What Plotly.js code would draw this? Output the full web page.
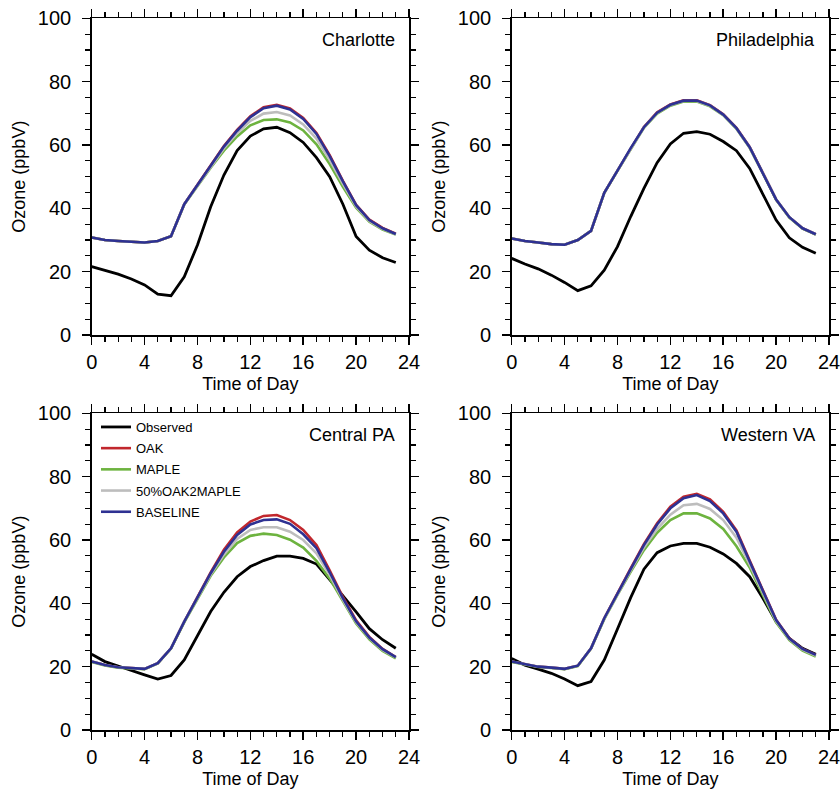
<!DOCTYPE html>
<html>
<head>
<meta charset="utf-8">
<script src="https://cdn.plot.ly/plotly-3.0.1.min.js"></script>
<style>html,body{margin:0;padding:0;background:#fff;}#chart{width:840px;height:793px;}</style>
</head>
<body>
<div id="chart"></div>
<script>
// ---- data ----
const hours = [0,1,2,3,4,5,6,7,8,9,10,11,12,13,14,15,16,17,18,19,20,21,22,23];
const seriesNames = ["Observed","OAK","MAPLE","50%OAK2MAPLE","BASELINE"];
const panelNames = ["Charlotte","Philadelphia","Central PA","Western VA"];

// Charlotte
const obsCLT   = [21.6,20.5,19.2,17.7,15.8,12.9,12.4,18.4,28.4,40.5,50.5,58.2,62.8,65.1,65.6,63.9,60.8,56.0,50.0,41.3,31.1,26.8,24.4,22.9];
const oakCLT   = [30.8,30.0,29.7,29.4,29.2,29.7,31.2,41.3,47.4,53.6,59.7,64.8,69.1,71.9,72.7,71.5,68.5,63.8,56.8,48.7,41.1,36.4,33.8,32.0];
const mapleCLT = [30.8,30.0,29.7,29.4,29.2,29.7,31.2,41.2,47.1,52.8,58.2,62.7,66.2,67.9,68.1,67.1,64.6,60.2,54.0,46.8,40.2,35.8,33.3,31.7];
const halfCLT  = [30.8,30.0,29.7,29.4,29.2,29.7,31.2,41.3,47.3,53.2,58.9,63.7,67.6,69.9,70.4,69.3,66.5,62.0,55.3,47.7,40.6,36.0,33.5,31.8];
const baseCLT  = [30.8,30.0,29.7,29.4,29.2,29.7,31.2,41.3,47.4,53.5,59.5,64.5,68.8,71.6,72.4,71.2,68.2,63.5,56.5,48.5,41.0,36.3,33.7,31.9];

// Philadelphia
const obsPHL   = [24.2,22.4,20.9,18.9,16.6,14.0,15.5,20.5,27.9,37.4,46.3,54.4,60.3,63.7,64.2,63.4,61.1,58.2,52.6,44.7,36.3,30.7,27.7,25.8];
const oakPHL   = [30.5,29.7,29.2,28.7,28.5,30.0,32.9,44.9,51.9,59.0,65.7,70.3,72.8,74.1,74.1,72.6,69.7,65.4,59.4,51.2,42.8,37.2,33.7,31.8];
const maplePHL = [30.5,29.7,29.2,28.7,28.5,30.0,32.9,44.8,51.8,58.8,65.4,69.9,72.4,73.7,73.7,72.2,69.4,65.1,59.1,51.0,42.7,37.1,33.6,31.7];
const halfPHL  = [30.5,29.7,29.2,28.7,28.5,30.0,32.9,44.9,51.9,58.9,65.5,70.1,72.6,73.9,73.9,72.4,69.5,65.2,59.2,51.1,42.8,37.2,33.7,31.8];
const basePHL  = [30.5,29.7,29.2,28.7,28.5,30.0,32.9,44.9,51.9,59.0,65.6,70.2,72.7,74.0,74.0,72.5,69.6,65.3,59.3,51.1,42.8,37.2,33.7,31.8];

// Central PA
const obsCPA   = [23.9,21.6,20.2,18.7,17.4,16.1,17.2,22.1,30.0,37.4,43.5,48.4,51.6,53.5,54.9,54.9,54.2,52.4,47.5,42.5,37.3,32.0,28.5,25.8];
const oakCPA   = [21.6,20.5,19.8,19.5,19.3,21.1,25.8,34.2,41.9,49.8,56.9,62.4,65.8,67.6,67.9,66.3,63.2,58.4,50.4,42.0,34.6,29.4,25.6,23.0];
const mapleCPA = [21.5,20.4,19.7,19.4,19.2,21.0,25.7,34.0,41.5,48.7,54.5,59.0,61.3,62.0,61.6,60.1,57.6,53.4,47.8,40.6,33.6,28.6,25.0,22.6];
const halfCPA  = [21.6,20.5,19.8,19.5,19.3,21.1,25.8,34.2,41.7,49.1,55.4,60.3,63.2,64.0,64.0,62.6,60.0,55.8,49.0,41.1,34.0,29.0,25.3,22.9];
const baseCPA  = [21.6,20.5,19.8,19.5,19.3,21.1,25.8,34.2,41.8,49.5,56.3,61.6,64.9,66.3,66.5,65.1,61.8,57.4,49.8,41.6,34.3,29.2,25.5,23.0];

// Western VA
const obsWVA   = [22.6,20.5,19.2,17.9,16.1,14.0,15.3,22.1,31.9,41.8,50.8,56.0,58.1,58.9,58.9,57.7,55.6,52.6,48.4,41.6,34.2,28.9,25.8,23.9];
const oakWVA   = [21.6,20.7,20.0,19.7,19.3,20.3,25.8,35.3,43.3,51.0,58.7,65.3,70.5,73.7,74.6,72.8,68.9,63.0,53.5,43.9,34.8,29.0,25.6,23.7];
const mapleWVA = [21.5,20.6,19.9,19.6,19.2,20.2,25.7,35.0,42.7,49.9,56.8,62.3,66.3,68.4,68.4,66.8,63.5,58.0,51.3,42.6,34.0,28.4,25.1,23.2];
const halfWVA  = [21.6,20.7,20.0,19.7,19.3,20.3,25.8,35.2,43.0,50.4,57.6,63.5,68.0,71.0,71.4,69.8,66.3,60.7,52.3,43.2,34.4,28.7,25.4,23.5];
const baseWVA  = [21.6,20.7,20.0,19.7,19.3,20.3,25.8,35.3,43.2,50.8,58.4,64.9,70.0,73.2,74.2,72.3,68.4,62.6,53.2,43.7,34.7,28.9,25.6,23.7];

const xTicks = [0,4,8,12,16,20,24];
const yTicks = [0,20,40,60,80,100];

// ---- styles ----
const colors = ["#000000","#c1272d","#6db33f","#bdbdbd","#2e3192"];
const widths = [2.8,2.6,2.6,2.6,2.6];
const panelData = [
  [obsCLT, oakCLT, mapleCLT, halfCLT, baseCLT],
  [obsPHL, oakPHL, maplePHL, halfPHL, basePHL],
  [obsCPA, oakCPA, mapleCPA, halfCPA, baseCPA],
  [obsWVA, oakWVA, mapleWVA, halfWVA, baseWVA]
];

const traces = [];
panelData.forEach((set, p) => {
  const sfx = p === 0 ? "" : String(p + 1);
  set.forEach((vals, s) => {
    traces.push({
      x: hours, y: vals, type: "scatter", mode: "lines",
      name: seriesNames[s],
      xaxis: "x" + sfx, yaxis: "y" + sfx,
      line: {color: colors[s], width: widths[s]},
      showlegend: p === 2,
      legendgroup: "g" + s,
      hoverinfo: "skip"
    });
  });
});

const W = 840, H = 793;
const xDom = [[91.7/W, 409/W],[511.7/W, 829/W]];
const yDom = [[1-335/H, 1-18.3/H],[1-730/H, 1-413.3/H]];
const font = "Liberation Sans, Arial, Helvetica, sans-serif";

function xAxis(col, row) {
  const idx = row*2+col;
  return {
    domain: xDom[col], range: [0, 24], anchor: "y" + (idx === 0 ? "" : (idx+1)),
    tickvals: xTicks, ticktext: xTicks.map(String),
    ticks: "outside", ticklen: 8, tickwidth: 1.5, tickcolor: "#000",
    minor: {dtick: 1, ticks: "outside", ticklen: 5, tickwidth: 1.2, tickcolor: "#000"},
    showline: true, linecolor: "#000", linewidth: 1.5, mirror: "allticks",
    showgrid: false, zeroline: false,
    ticklabeloverflow: "allow",
    tickfont: {family: font, size: 20, color: "#000"},
    title: {text: "Time of Day", font: {family: font, size: 18, color: "#000"}, standoff: 6},
    fixedrange: true
  };
}
function yAxis(col, row) {
  const idx = row*2+col;
  return {
    domain: yDom[row], range: [0, 100], anchor: "x" + (idx === 0 ? "" : (idx+1)),
    tickvals: yTicks, ticktext: yTicks.map(String),
    ticks: "outside", ticklen: 8, tickwidth: 1.5, tickcolor: "#000",
    minor: {dtick: 5, ticks: "outside", ticklen: 5, tickwidth: 1.2, tickcolor: "#000"},
    showline: true, linecolor: "#000", linewidth: 1.5, mirror: "allticks",
    showgrid: false, zeroline: false,
    ticklabeloverflow: "allow",
    tickfont: {family: font, size: 20, color: "#000"},
    ticklabelstandoff: 7,
    title: {text: "Ozone (ppbV)", font: {family: font, size: 18, color: "#000"}, standoff: 7},
    fixedrange: true
  };
}

const layout = {
  width: W, height: H,
  margin: {l: 0, r: 0, t: 0, b: 0},
  paper_bgcolor: "#fff", plot_bgcolor: "#fff",
  font: {family: font, color: "#000"},
  xaxis: xAxis(0,0), yaxis: yAxis(0,0),
  xaxis2: xAxis(1,0), yaxis2: yAxis(1,0),
  xaxis3: xAxis(0,1), yaxis3: yAxis(0,1),
  xaxis4: xAxis(1,1), yaxis4: yAxis(1,1),
  showlegend: true,
  legend: {
    x: 96/W, y: 1-412/H, xanchor: "left", yanchor: "top",
    bgcolor: "rgba(0,0,0,0)", borderwidth: 0,
    font: {family: font, size: 13, color: "#000"},
    itemwidth: 30, tracegroupgap: 1.3, traceorder: "grouped"
  },
  annotations: panelNames.map((n, i) => {
    const sfx = i === 0 ? "" : String(i+1);
    return {
      text: n, xref: "x" + sfx + " domain", yref: "y" + sfx + " domain",
      x: 0.963, y: 0.931, xanchor: "right", yanchor: "middle",
      showarrow: false, font: {family: font, size: 18, color: "#000"}
    };
  })
};

Plotly.newPlot("chart", traces, layout, {displayModeBar: false, staticPlot: true});
</script>
</body>
</html>
